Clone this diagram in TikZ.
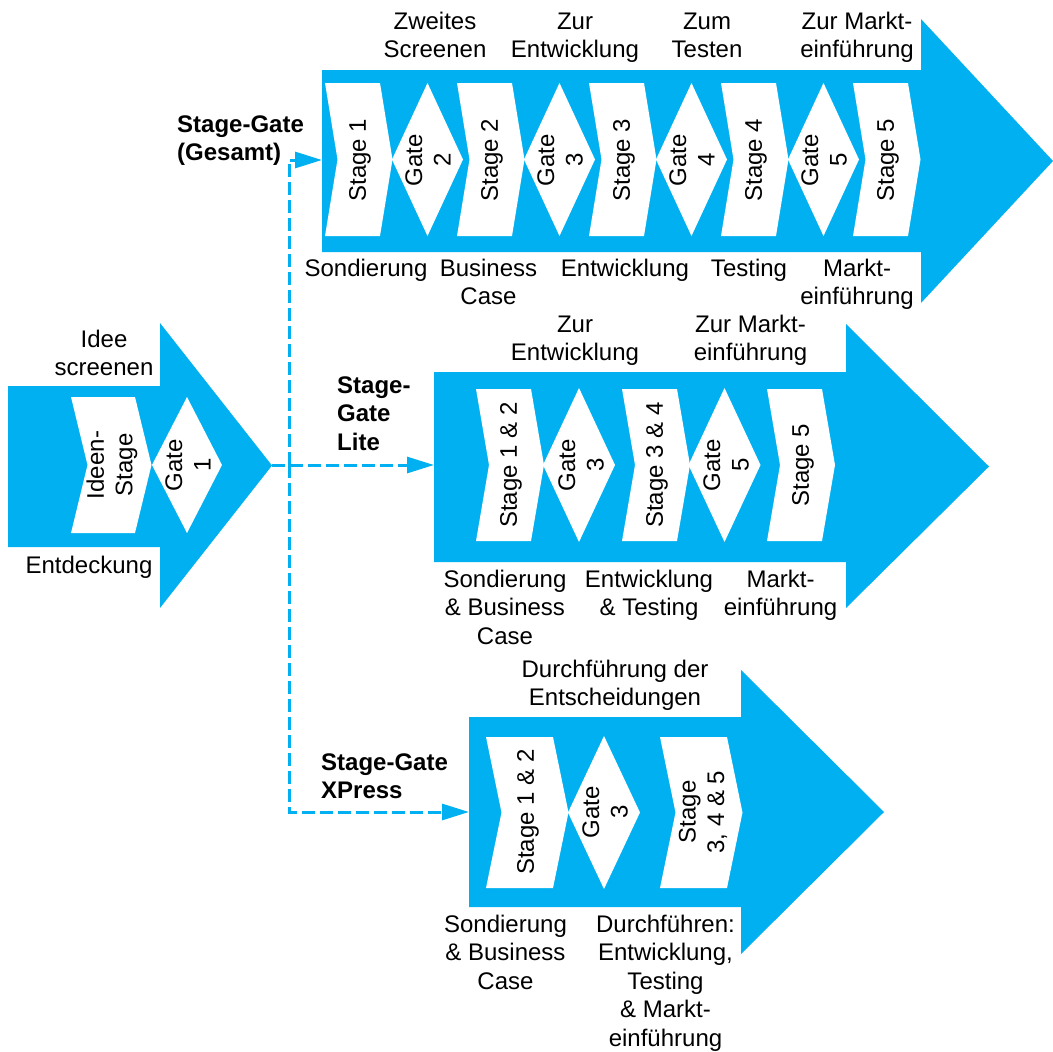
\documentclass[tikz,border=0pt]{standalone}
\usepackage{fontspec}
\setmainfont{Liberation Sans}
\usetikzlibrary{arrows.meta}
\definecolor{sgblue}{HTML}{00B0F0}

% white stage block: left x, width, notch depth, top y, bottom y
\newcommand\StageShape[5]{%
  \fill[white] (#1,#4) -- ({#1+#2},#4) -- ({#1+#2+#3},{(#4+#5)/2})
    -- ({#1+#2},#5) -- (#1,#5) -- ({#1+#3},{(#4+#5)/2}) -- cycle;}
% white gate diamond: centre x, half width, top y, bottom y
\newcommand\GateShape[4]{%
  \fill[white] (#1,#3) -- ({#1+#2},{(#3+#4)/2}) -- (#1,#4)
    -- ({#1-#2},{(#3+#4)/2}) -- cycle;}

\tikzset{
  txt/.style={font=\fontsize{24}{28.5}\selectfont, align=center, inner sep=0pt, anchor=north},
  grouplabel/.style={font=\fontsize{24}{28.5}\selectfont\bfseries, align=left, inner sep=0pt, anchor=north west},
  rlab/.style={font=\fontsize{24}{28.5}\selectfont, align=center, inner sep=0pt, rotate=90},
  dashlink/.style={draw=sgblue, line width=3pt, dash pattern=on 13pt off 5pt,
    -{Triangle[length=27pt,width=16pt]}},
}

\begin{document}
\begin{tikzpicture}[x=1pt,y=-1pt]
\useasboundingbox (0,0) rectangle (1053,1052);

% ---------- big process arrows ----------
\fill[sgblue] (8,386) -- (160,386) -- (160,323) -- (272,465.5) -- (160,608) -- (160,547) -- (8,547) -- cycle;
\fill[sgblue] (322,70) -- (921,70) -- (921,19) -- (1053,161) -- (921,303) -- (921,252) -- (322,252) -- cycle;
\fill[sgblue] (434,372) -- (846,372) -- (846,324) -- (989,466.5) -- (846,608) -- (846,562) -- (434,562) -- cycle;
\fill[sgblue] (469,717) -- (741,717) -- (741,670) -- (884,812) -- (741,954) -- (741,907) -- (469,907) -- cycle;

% ---------- discovery ----------
\StageShape{71}{64}{16.5}{397}{533}
\GateShape{187}{35}{397}{533}
\node[rlab] (ideenStage) at (112,465) {Ideen-\\Stage};
\node[rlab] (gate1) at (188,465) {Gate\\1};
\node[txt] (ideeScreen) at (104,327) {\strut Idee\\\strut screenen};
\node[txt] (entdeckung) at (89,553) {\strut Entdeckung};

% ---------- full Stage-Gate ----------
\foreach \L in {325,457,589,721,853} {\StageShape{\L}{55}{12.5}{83}{236}}
\foreach \G in {427.5,559.5,691.5,823.5} {\GateShape{\G}{35.5}{83}{236}}
\node[rlab] (gS1) at (360,160) {Stage 1};
\node[rlab] (gS2) at (492,160) {Stage 2};
\node[rlab] (gS3) at (624,160) {Stage 3};
\node[rlab] (gS4) at (756,160) {Stage 4};
\node[rlab] (gS5) at (888,160) {Stage 5};
\node[rlab] (gG2) at (428,160) {Gate\\2};
\node[rlab] (gG3) at (560,160) {Gate\\3};
\node[rlab] (gG4) at (692,160) {Gate\\4};
\node[rlab] (gG5) at (824,160) {Gate\\5};
\node[txt] (gT2) at (435,9) {\strut Zweites\\\strut Screenen};
\node[txt] (gT3) at (575,9) {\strut Zur\\\strut Entwicklung};
\node[txt] (gT4) at (707,9) {\strut Zum\\\strut Testen};
\node[txt] (gT5) at (857,9) {\strut Zur Markt-\\\strut einführung};
\node[txt] (gB1) at (366,256) {\strut Sondierung};
\node[txt] (gB2) at (488.5,256) {\strut Business\\\strut Case};
\node[txt] (gB3) at (625,256) {\strut Entwicklung};
\node[txt] (gB4) at (749,256) {\strut Testing};
\node[txt] (gB5) at (857,256) {\strut Markt-\\\strut einführung};
\node[grouplabel] (gesamtLabel) at (177,112) {\strut Stage-Gate\\\strut (Gesamt)};

% ---------- Stage-Gate Lite ----------
\foreach \L in {476,622,767} {\StageShape{\L}{55}{13}{389}{541}}
\foreach \G in {579,724.5} {\GateShape{\G}{36}{388}{542}}
\node[rlab] (lS12) at (511,465) {Stage 1 \& 2};
\node[rlab] (lS34) at (657,465) {Stage 3 \& 4};
\node[rlab] (lS5) at (803,465) {Stage 5};
\node[rlab] (lG3) at (581,465) {Gate\\3};
\node[rlab] (lG5) at (726,465) {Gate\\5};
\node[txt] (lT3) at (575,312) {\strut Zur\\\strut Entwicklung};
\node[txt] (lT5) at (750.5,312) {\strut Zur Markt-\\\strut einführung};
\node[txt] (lB1) at (505,567) {\strut Sondierung\\\strut \& Business\\\strut Case};
\node[txt] (lB2) at (649,567) {\strut Entwicklung\\\strut \& Testing};
\node[txt] (lB3) at (780.5,567) {\strut Markt-\\\strut einführung};
\node[grouplabel] (liteLabel) at (337,373) {\strut Stage-\\\strut Gate\\\strut Lite};

% ---------- Stage-Gate XPress ----------
\StageShape{486}{67}{15.5}{737}{888}
\StageShape{660}{67}{15.5}{737}{888}
\GateShape{604}{36}{736}{889}
\node[rlab] (xS12) at (528,812) {Stage 1 \& 2};
\node[rlab] (xG3) at (605,812) {Gate\\3};
\node[rlab] (xS345) at (703,812) {Stage\\3, 4 \& 5};
\node[txt] (xT) at (615,657) {\strut Durchführung der\\\strut Entscheidungen};
\node[txt] (xB1) at (505.5,912) {\strut Sondierung\\\strut \& Business\\\strut Case};
\node[txt] (xB2) at (665.5,912) {\strut Durchführen:\\\strut Entwicklung,\\\strut Testing\\\strut \& Markt-\\\strut einführung};
\node[grouplabel] (xpressLabel) at (321,750) {\strut Stage-Gate\\\strut XPress};

% ---------- dashed routing from the discovery arrow ----------
\coordinate (ideeTip) at (272,465);
\coordinate (trunk) at (289,465);
\coordinate (gesamtIn) at (322,160);
\coordinate (liteIn) at (434,465);
\coordinate (xpressIn) at (469,812);
\draw[dashlink] (ideeTip) -- (liteIn);
\draw[dashlink] (trunk) |- (gesamtIn);
\draw[dashlink] (trunk) |- (xpressIn);
\end{tikzpicture}
\end{document}
